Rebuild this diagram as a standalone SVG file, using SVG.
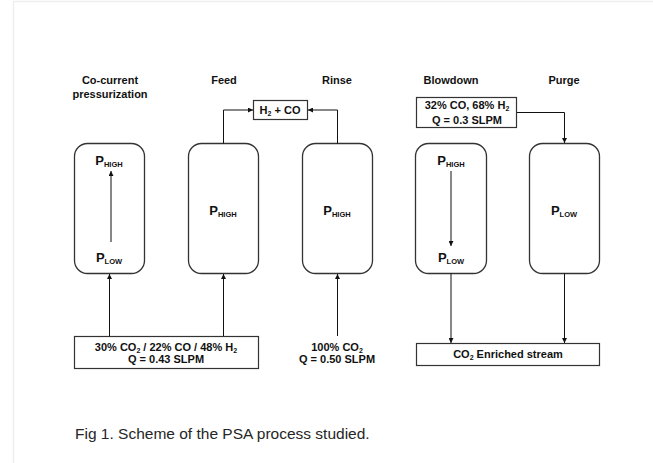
<svg xmlns="http://www.w3.org/2000/svg" width="653" height="463" viewBox="0 0 653 463">
<style>
.t{font-family:"Liberation Sans",Arial,sans-serif;font-weight:bold;font-size:11px;fill:#111;text-anchor:middle}
.p{font-family:"Liberation Sans",Arial,sans-serif;font-weight:bold;font-size:13px;fill:#111;text-anchor:middle}
.s{font-size:7.5px}
.col{fill:#fff;stroke:#333;stroke-width:1.3}
.box{fill:#fff;stroke:#333;stroke-width:1.2}
.ln{fill:none;stroke:#111;stroke-width:1;marker-end:url(#ah)}
.cap{font-family:"Liberation Sans",Arial,sans-serif;font-size:15.5px;fill:#262626}
</style>
<defs>
<marker id="ah" viewBox="0 0 6 6" refX="6" refY="3" markerWidth="5" markerHeight="5" markerUnits="userSpaceOnUse" orient="auto">
<path d="M0,0 L6,3 L0,6 Z" fill="#111"/>
</marker>
</defs>
<rect width="653" height="463" fill="#fff"/>
<path d="M13.5,463 V1.5 H653" fill="none" stroke="#eeeeee" stroke-width="1.5"/>

<g id="titles">
<text class="t" x="110" y="84">Co-current</text>
<text class="t" x="110" y="98">pressurization</text>
<text class="t" x="224" y="84">Feed</text>
<text class="t" x="337" y="84">Rinse</text>
<text class="t" x="451" y="84">Blowdown</text>
<text class="t" x="564" y="84">Purge</text>
</g>

<g id="col1">
<rect class="col" x="74.5" y="143.5" width="70" height="130" rx="13"/>
<text class="p" x="109" y="165">P<tspan class="s" dy="2">HIGH</tspan></text>
<text class="p" x="109" y="262">P<tspan class="s" dy="2">LOW</tspan></text>
</g>
<g id="col2">
<rect class="col" x="188.5" y="143.5" width="70" height="130" rx="13"/>
<text class="p" x="223" y="215">P<tspan class="s" dy="2">HIGH</tspan></text>
</g>
<g id="col3">
<rect class="col" x="302.5" y="143.5" width="70" height="130" rx="13"/>
<text class="p" x="337" y="215">P<tspan class="s" dy="2">HIGH</tspan></text>
</g>
<g id="col4">
<rect class="col" x="415.5" y="143.5" width="71" height="130" rx="13"/>
<text class="p" x="451" y="165">P<tspan class="s" dy="2">HIGH</tspan></text>
<text class="p" x="451" y="262">P<tspan class="s" dy="2">LOW</tspan></text>
</g>
<g id="col5">
<rect class="col" x="529.5" y="143.5" width="70" height="130" rx="13"/>
<text class="p" x="564" y="215">P<tspan class="s" dy="2">LOW</tspan></text>
</g>

<g id="product">
<rect class="box" x="253.5" y="100.5" width="54" height="19"/>
<text class="t" x="280" y="114">H<tspan font-size="7" dy="2">2</tspan><tspan dy="-2"> + CO</tspan></text>
</g>
<g id="purgefeed">
<rect class="box" x="416.5" y="97.5" width="100" height="30"/>
<text class="t" x="467" y="109">32% CO, 68% H<tspan font-size="7" dy="2">2</tspan></text>
<text class="t" x="467" y="124">Q = 0.3 SLPM</text>
</g>
<g id="feed">
<rect class="box" x="74.5" y="336.5" width="184" height="32"/>
<text class="t" x="166" y="351">30% CO<tspan font-size="7" dy="2">2</tspan><tspan dy="-2"> / 22% CO / 48% H</tspan><tspan font-size="7" dy="2">2</tspan></text>
<text class="t" x="166" y="363">Q = 0.43 SLPM</text>
</g>
<g id="rinsefeed">
<text class="t" x="337" y="351">100% CO<tspan font-size="7" dy="2">2</tspan></text>
<text class="t" x="337" y="363">Q = 0.50 SLPM</text>
</g>
<g id="enriched">
<rect class="box" x="416.5" y="343.5" width="183" height="22"/>
<text class="t" x="508" y="358">CO<tspan font-size="7" dy="2">2</tspan><tspan dy="-2"> Enriched stream</tspan></text>
</g>

<g id="connectors">
<path class="ln" d="M111,242 V171"/>
<path class="ln" d="M451,171 V246"/>
<path class="ln" d="M223.5,143.5 V110 H253"/>
<path class="ln" d="M337.5,143.5 V110 H308"/>
<path class="ln" d="M517,112.5 H564.5 V143"/>
<path class="ln" d="M109.5,336 V274"/>
<path class="ln" d="M223.5,336 V274"/>
<path class="ln" d="M337.5,336 V274"/>
<path class="ln" d="M451,273.5 V343"/>
<path class="ln" d="M564.5,273.5 V343"/>
</g>

<text class="cap" x="75" y="439">Fig 1. Scheme of the PSA process studied.</text>
</svg>
